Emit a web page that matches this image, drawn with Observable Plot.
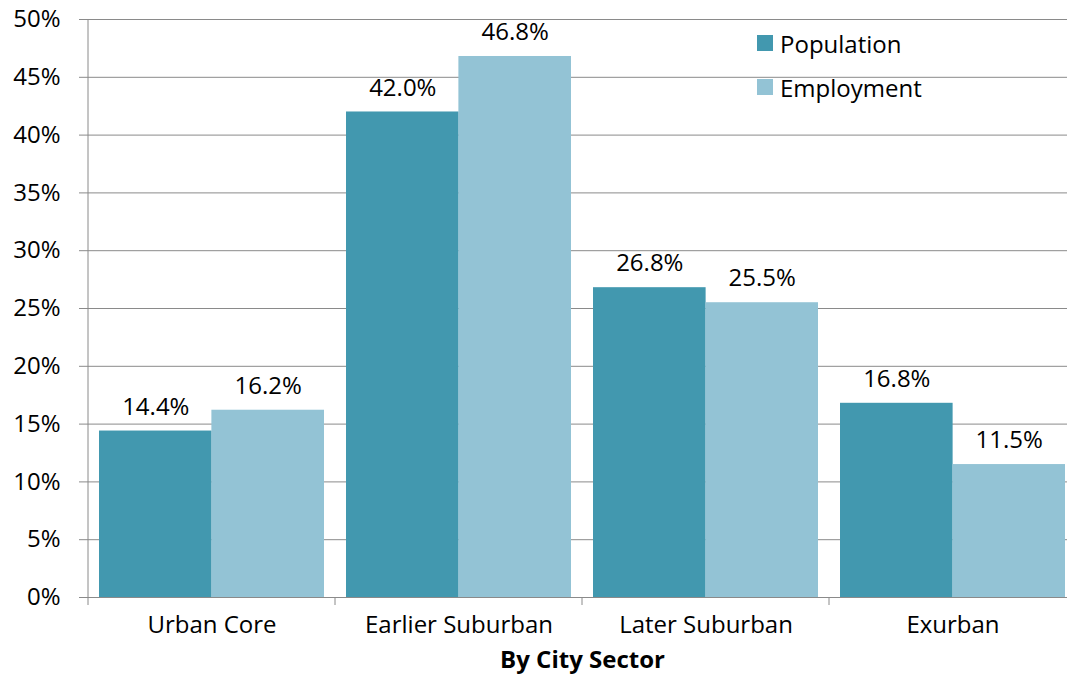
<!DOCTYPE html>
<html>
<head>
<meta charset="utf-8">
<script src="https://cdn.jsdelivr.net/npm/d3@7"></script>
<script src="https://cdn.jsdelivr.net/npm/@observablehq/plot@0.6"></script>
<style>
  html, body { margin: 0; padding: 0; background: #fff; overflow: hidden; }
  #wrap { position: relative; width: 1067px; height: 674px; overflow: hidden; }
  #wrap svg { max-width: none !important; }
  .legend { position: absolute; left: 757px; top: 29px; font-family: "Open Sans", sans-serif; font-size: 24px; color: #000; }
  .legend .item { display: flex; align-items: center; height: 28px; margin-bottom: 16px; white-space: nowrap; }
  .legend .sw { width: 16px; height: 16px; margin-right: 7px; flex: none; }
</style>
</head>
<body>
<div id="wrap"></div>
<script>
const categories = ["Urban Core", "Earlier Suburban", "Later Suburban", "Exurban"];
const population = [14.4, 42.0, 26.8, 16.8];
const employment = [16.2, 46.8, 25.5, 11.5];
const seriesNames = ["Population", "Employment"];
const seriesColors = ["#4298AF", "#93C3D5"];
const yTicks = [0, 5, 10, 15, 20, 25, 30, 35, 40, 45, 50];
const xTitle = "By City Sector";

const popRows = categories.map((c, i) => ({cat: c, series: seriesNames[0], value: population[i]}));
const empRows = categories.map((c, i) => ({cat: c, series: seriesNames[1], value: employment[i]}));

const W = 1076, H = 674, mL = 88, mR = 0, mT = 19, mB = 77;
const padIn = 0.09, padOut = 0.045;
const step = (W - mL - mR) / (categories.length - padIn + 2 * padOut);
const bw = step * (1 - padIn);
const half = bw / 2;
const gray = "#8a8a8a";
const font = "'Open Sans', sans-serif";

const chart = Plot.plot({
  width: W, height: H,
  marginLeft: mL, marginRight: mR, marginTop: mT, marginBottom: mB,
  style: {fontFamily: font, fontSize: "24px", color: "#000", background: "#fff", maxWidth: "none"},
  x: {type: "band", domain: categories, paddingInner: padIn, paddingOuter: padOut},
  y: {domain: [0, 50]},
  color: {domain: seriesNames, range: seriesColors},
  marks: [
    Plot.ruleY(yTicks, {stroke: gray, strokeWidth: 1}),
    Plot.barY(popRows, {x: "cat", y: "value", fill: "series", insetRight: half}),
    Plot.barY(empRows, {x: "cat", y: "value", fill: "series", insetLeft: half}),
    Plot.ruleY([0], {stroke: gray, strokeWidth: 1}),
    Plot.text(popRows, {x: "cat", y: "value", text: d => d.value.toFixed(1) + "%", dx: -half / 2, dy: -24, lineAnchor: "middle", fontSize: 24, fill: "#000"}),
    Plot.text(empRows, {x: "cat", y: "value", text: d => d.value.toFixed(1) + "%", dx: half / 2, dy: -24, lineAnchor: "middle", fontSize: 24, fill: "#000"}),
    Plot.axisY({ticks: yTicks, tickSize: 9, tickPadding: 19, tickFormat: d => d + "%", stroke: gray, fontSize: 24, label: null}),
    Plot.axisX({tickSize: 0, tickPadding: 18, fontSize: 24, label: null}),
    Plot.text([xTitle], {frameAnchor: "bottom", dy: 70, fontWeight: "bold", fontSize: 24, fill: "#000"})
  ]
});

document.getElementById("wrap").appendChild(chart);

// axis line and category boundary ticks from the library's scales
const sx = chart.scale("x");
const sy = chart.scale("y");
const stepPx = sx.step ?? step;
const bwPx = sx.bandwidth ?? bw;
const bounds = categories.map(c => sx.apply(c) - (stepPx - bwPx) / 2);
const y0 = sy.apply(0), y50 = sy.apply(50);
const g = d3.select(chart).append("g").attr("stroke", gray).attr("stroke-width", 1);
g.append("line").attr("x1", bounds[0]).attr("x2", bounds[0]).attr("y1", y50).attr("y2", y0 + 8);
bounds.slice(1).forEach(b => {
  g.append("line").attr("x1", b).attr("x2", b).attr("y1", y0).attr("y2", y0 + 8);
});

// legend
const legend = d3.select("#wrap").append("div").attr("class", "legend");
seriesNames.forEach((s, i) => {
  const it = legend.append("div").attr("class", "item");
  it.append("div").attr("class", "sw").style("background", seriesColors[i]);
  it.append("span").text(s);
});
</script>
</body>
</html>
